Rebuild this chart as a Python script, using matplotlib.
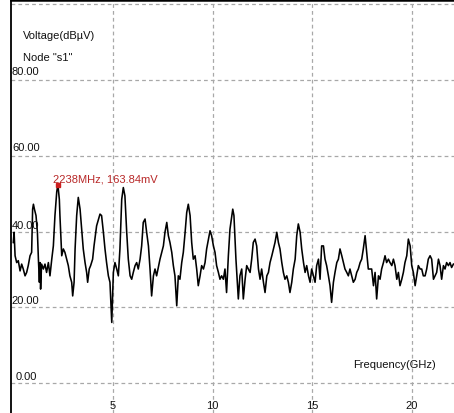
import matplotlib
matplotlib.use("Agg")
import matplotlib.pyplot as plt

# spectrum trace at node s1 (GHz, dBuV)
freq_ghz = [
    0.00, 0.04, 0.09, 0.17, 0.25, 0.34, 0.42, 0.50, 0.59, 0.67, 0.75, 0.84, 0.92, 0.97,
    1.01, 1.06, 1.14, 1.21, 1.26, 1.31, 1.34, 1.37, 1.42, 1.51, 1.59, 1.67, 1.76, 1.84,
    1.93, 2.01, 2.09, 2.18, 2.238, 2.31, 2.34, 2.43, 2.51, 2.59, 2.68, 2.76, 2.84, 2.93,
    2.98, 3.05, 3.10, 3.18, 3.26, 3.35, 3.43, 3.51, 3.60, 3.68, 3.73, 3.81, 3.88, 3.98,
    4.05, 4.18, 4.35, 4.43, 4.52, 4.60, 4.68, 4.77, 4.85, 4.94, 5.02, 5.10, 5.19, 5.27,
    5.35, 5.44, 5.52, 5.60, 5.69, 5.77, 5.86, 5.94, 6.02, 6.11, 6.19, 6.27, 6.36, 6.44,
    6.52, 6.61, 6.69, 6.78, 6.86, 6.94, 7.03, 7.11, 7.19, 7.36, 7.53, 7.61, 7.70, 7.78,
    7.86, 7.95, 8.03, 8.11, 8.20, 8.28, 8.36, 8.45, 8.53, 8.62, 8.70, 8.78, 8.87, 8.95,
    9.03, 9.12, 9.20, 9.28, 9.37, 9.45, 9.54, 9.62, 9.70, 9.79, 9.87, 9.95, 10.04, 10.12,
    10.20, 10.29, 10.37, 10.45, 10.54, 10.62, 10.70, 10.79, 10.87, 11.01, 11.07, 11.17,
    11.29, 11.37, 11.46, 11.54, 11.63, 11.71, 11.79, 11.88, 11.96, 12.04, 12.13, 12.21,
    12.30, 12.38, 12.46, 12.55, 12.63, 12.72, 12.80, 12.88, 12.97, 13.05, 13.13, 13.22,
    13.30, 13.38, 13.47, 13.55, 13.63, 13.72, 13.80, 13.88, 13.97, 14.05, 14.14, 14.22,
    14.30, 14.39, 14.47, 14.56, 14.64, 14.72, 14.81, 14.89, 14.97, 15.06, 15.14, 15.22,
    15.31, 15.39, 15.47, 15.56, 15.64, 15.72, 15.81, 15.89, 15.97, 16.06, 16.14, 16.23,
    16.31, 16.39, 16.48, 16.56, 16.64, 16.73, 16.81, 16.89, 16.98, 17.06, 17.15, 17.23,
    17.31, 17.40, 17.48, 17.56, 17.65, 17.73, 17.81, 17.90, 17.98, 18.07, 18.15, 18.23,
    18.32, 18.40, 18.48, 18.57, 18.65, 18.73, 18.82, 18.90, 18.99, 19.07, 19.15, 19.24,
    19.32, 19.40, 19.49, 19.57, 19.65, 19.74, 19.82, 19.91, 19.99, 20.07, 20.16, 20.24,
    20.32, 20.41, 20.49, 20.57, 20.66, 20.74, 20.82, 20.91, 20.99, 21.08, 21.16, 21.24,
    21.33, 21.41, 21.49, 21.58, 21.66, 21.74, 21.83, 21.91, 21.99, 22.08,
]
volt_dbuv = [
    37.1, 39.8, 33.6, 31.8, 32.3, 29.6, 31.4, 30.1, 28.3, 29.2, 31.0, 33.6, 34.5, 45.9,
    47.2, 45.9, 44.2, 39.8, 32.7, 26.6, 31.8, 24.8, 31.4, 30.1, 31.4, 29.2, 31.8, 28.3,
    32.7, 36.2, 44.2, 50.5, 52.3, 48.5, 44.2, 33.6, 35.4, 34.5, 32.7, 31.0, 28.3, 26.6,
    23.0, 26.6, 35.4, 44.2, 49.0, 45.9, 40.6, 35.4, 31.8, 29.2, 26.6, 30.1, 31.0, 32.7,
    36.2, 41.5, 44.6, 44.2, 39.8, 35.4, 31.8, 28.3, 26.6, 16.0, 29.2, 31.8, 30.1, 28.3,
    35.4, 48.5, 51.6, 49.4, 39.8, 32.7, 28.3, 27.4, 29.2, 31.0, 31.8, 30.1, 32.7, 36.2,
    42.4, 43.3, 39.8, 36.2, 30.1, 23.0, 28.3, 30.1, 28.3, 32.7, 36.2, 39.8, 42.4, 38.9,
    37.1, 34.5, 31.0, 28.3, 20.4, 28.3, 27.4, 31.8, 34.5, 39.8, 45.0, 47.2, 44.2, 37.1,
    32.7, 33.6, 30.1, 25.7, 28.3, 31.0, 30.1, 31.8, 35.4, 38.0, 40.2, 38.9, 36.2, 34.5,
    31.0, 29.2, 27.4, 28.3, 27.4, 30.1, 23.9, 33.6, 40.6, 45.9, 44.2, 32.7,
    22.2, 28.3, 30.1, 22.2, 27.4, 31.0, 30.1, 29.2, 32.7, 37.1, 38.0, 36.2,
    30.1, 27.4, 30.1, 26.6, 23.9, 28.3, 29.2, 31.8, 33.6, 35.4, 37.1, 39.8,
    37.1, 35.4, 31.8, 29.2, 27.4, 28.3, 26.6, 23.9, 26.6, 30.1, 32.7, 38.9,
    42.0, 39.8, 35.4, 31.8, 29.2, 31.0, 28.3, 26.6, 30.1, 28.3, 26.6, 31.0,
    32.7, 27.4, 36.2, 36.2, 32.7, 31.0, 28.3, 25.7, 21.3, 26.6, 29.2, 31.8,
    32.7, 35.4, 33.6, 31.8, 30.1, 29.2, 28.3, 30.1, 28.3, 26.6, 27.4, 29.2,
    30.1, 31.8, 32.7, 35.4, 38.9, 34.5, 30.1, 30.1, 30.1, 25.7, 29.2, 22.2,
    28.3, 27.4, 30.1, 31.8, 33.6, 31.8, 32.7, 31.8, 31.0, 32.7, 31.0, 27.4,
    29.2, 25.7, 27.4, 29.2, 31.8, 33.6, 38.0, 36.2, 31.0, 29.2, 25.7, 28.3,
    31.0, 30.1, 30.1, 28.3, 28.3, 30.1, 32.7, 33.6, 32.7, 27.4, 28.3, 29.2,
    32.7, 31.0, 27.4, 31.0, 30.1, 31.8, 31.0, 31.8, 30.5, 31.4,
]
y_ticks = [0, 20, 40, 60, 80, 100]
y_labels = ["0.00", "20.00", "40.00", "60.00", "80.00"]
x_ticks = [5, 10, 15, 20]

marker_f = 2.238
marker_v = 52.3
marker_text = "2238MHz, 163.84mV"

plt.rcParams['font.family'] = ['Liberation Sans', 'DejaVu Sans']

W, H = 454, 414
fig = plt.figure(figsize=(W / 100, H / 100), dpi=100)
ax = fig.add_axes([11 / W, 0, 443 / W, 413 / H])
ax.set_xlim(-0.115, 22.11)
ax.set_ylim(-7.9, 101.1)

for s in ("right", "bottom"):
    ax.spines[s].set_visible(False)
ax.spines["left"].set_linewidth(1.3)
ax.spines["top"].set_linewidth(1.8)
ax.set_xticks([])
ax.set_yticks([])

grid_kw = dict(color="#a8a8a8", lw=0.9, ls=(0, (3, 2.5)), zorder=1)
for yv in y_ticks:
    ax.axhline(yv, **grid_kw)
for xv in x_ticks:
    ax.axvline(xv, **grid_kw)

ax.plot(freq_ghz, volt_dbuv, color="black", lw=1.15, zorder=3)

# value labels drawn inside the plot area
txt = dict(fontsize=8, color="#111111", va="center", ha="left")
label_off = {80: 2.3, 60: 2.3, 40: 1.6, 20: 1.8, 0: 1.9}
for yv, lab in zip(y_ticks, y_labels):
    x0 = -0.07 if yv else 0.14
    ax.text(x0, yv + label_off[yv], lab, zorder=4, **txt)
for xv in x_ticks:
    ax.text(xv, -5.8, str(xv), fontsize=8, color="#111111", va="center", ha="center")

ax.text(0.46, 91.8, "Voltage(dBµV)", **txt)
ax.text(0.50, 86.0, 'Node "s1"', **txt)
ax.text(17.04, 5.0, "Frequency(GHz)", **txt)

ax.plot([marker_f], [marker_v], marker="s", ms=3.5, color="#cc1f1f", zorder=5)
ax.text(1.98, 54.0, marker_text, fontsize=8, color="#b82828", va="center", ha="left", zorder=5)

fig.savefig("out.png", dpi=100)
